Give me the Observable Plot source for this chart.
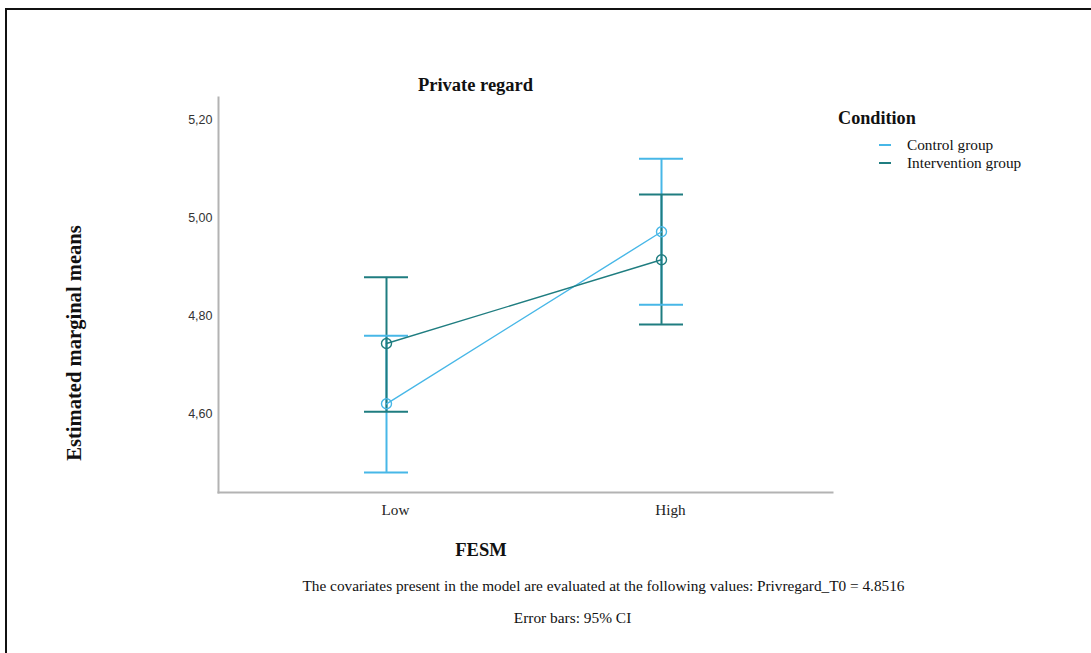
<!DOCTYPE html>
<html>
<head>
<meta charset="utf-8">
<script src="https://cdn.jsdelivr.net/npm/d3@7"></script>
<script src="https://cdn.jsdelivr.net/npm/@observablehq/plot@0.6"></script>
<style>
  html, body { margin: 0; padding: 0; background: #fff; overflow: hidden; }
  #page { position: relative; width: 1091px; height: 653px; overflow: hidden; }
  #border { position: absolute; left: 5px; top: 8px; width: 2000px; height: 2000px;
            border-left: 2px solid #111; border-top: 2px solid #111; }
  #chart { position: absolute; left: 0; top: 0; }
  .t { position: absolute; font-family: "Liberation Serif", "Times New Roman", serif; color: #111; white-space: nowrap; }
  .b { font-weight: bold; }
</style>
</head>
<body>
<div id="page">
  <div id="border"></div>
  <div id="chart"></div>
  <div class="t b" id="title" style="left:475.5px; top:85px; font-size:18.5px; transform:translate(-50%,-50%);">Private regard</div>
  <div class="t b" id="ylab" style="left:74px; top:343px; font-size:20.6px; transform:translate(-50%,-50%) rotate(-90deg);">Estimated marginal means</div>
  <div class="t b" id="xlab" style="left:481px; top:550px; font-size:18.5px; transform:translate(-50%,-50%);">FESM</div>
  <div class="t b" id="legtitle" style="left:838px; top:118px; font-size:18.2px; transform:translate(0,-50%);">Condition</div>
  <div id="legend"></div>
  <div class="t" id="cap1" style="left:603.5px; top:586px; font-size:15.3px; transform:translate(-50%,-50%);"></div>
  <div class="t" id="cap2" style="left:572.5px; top:618px; font-size:15.4px; transform:translate(-50%,-50%);"></div>
</div>
<script>
// ---- data ----
const categories = ["Low", "High"];
const groups = ["Control group", "Intervention group"];
const groupColors = ["#47b7e7", "#1f7d80"];

const controlMean = [4.620, 4.971];
const controlLower = [4.480, 4.822];
const controlUpper = [4.759, 5.120];

const interventionMean = [4.743, 4.914];
const interventionLower = [4.604, 4.782];
const interventionUpper = [4.878, 5.047];

const yTicks = [4.6, 4.8, 5.0, 5.2];
const yDomain = [4.439, 5.245];

const captionCovariates = "The covariates present in the model are evaluated at the following values: Privregard_T0 = 4.8516";
const captionErrorBars = "Error bars: 95% CI";

// ---- table built from the arrays ----
const rows = [];
categories.forEach((c, i) => rows.push({cat: c, group: groups[0], mean: controlMean[i], lo: controlLower[i], hi: controlUpper[i]}));
categories.forEach((c, i) => rows.push({cat: c, group: groups[1], mean: interventionMean[i], lo: interventionLower[i], hi: interventionUpper[i]}));

const axisGray = "#b3b3b3";

const chart = Plot.plot({
  width: 1091,
  height: 653,
  marginLeft: 218,
  marginRight: 259,
  marginTop: 97,
  marginBottom: 161,
  style: {background: "transparent", overflow: "visible"},
  x: {type: "band", domain: categories, paddingInner: 0.84, paddingOuter: 0.536, align: 0.495, axis: null},
  y: {domain: yDomain, axis: null},
  color: {domain: groups, range: groupColors},
  marks: [
    Plot.frame({anchor: "left", stroke: axisGray, strokeWidth: 2}),
    Plot.frame({anchor: "bottom", stroke: axisGray, strokeWidth: 2}),
    Plot.axisY({ticks: yTicks, tickSize: 0, tickPadding: 6, label: null,
      tickFormat: d => d.toFixed(2).replace(".", ","),
      fontSize: 12.5, fontFamily: "Liberation Sans, Arial, sans-serif", fill: "#333"}),
    Plot.axisX({tickSize: 0, tickPadding: 12, label: null, dx: 9,
      fontSize: 15.2, fontFamily: "Liberation Serif, Times New Roman, serif", fill: "#222"}),
    Plot.ruleX(rows, {x: "cat", y1: "lo", y2: "hi", stroke: "group", strokeWidth: 2}),
    Plot.tickY(rows, {x: "cat", y: "lo", stroke: "group", strokeWidth: 2}),
    Plot.tickY(rows, {x: "cat", y: "hi", stroke: "group", strokeWidth: 2}),
    Plot.line(rows, {x: "cat", y: "mean", stroke: "group", z: "group", strokeWidth: 1.4}),
    Plot.dot(rows, {x: "cat", y: "mean", stroke: "group", r: 5, strokeWidth: 1.4, fill: "none"})
  ]
});
document.getElementById("chart").appendChild(chart);

// legend
const legend = document.getElementById("legend");
groups.forEach((g, i) => {
  const y = 145 + i * 18;
  const sw = document.createElement("div");
  sw.style.cssText = `position:absolute; left:879px; top:${y - 1}px; width:12px; height:2px; background:${groupColors[i]};`;
  legend.appendChild(sw);
  const t = document.createElement("div");
  t.className = "t";
  t.style.cssText = `left:907px; top:${y}px; font-size:15.3px; transform:translate(0,-50%);`;
  t.textContent = g;
  legend.appendChild(t);
});
document.getElementById("cap1").textContent = captionCovariates;
document.getElementById("cap2").textContent = captionErrorBars;
</script>
</body>
</html>
